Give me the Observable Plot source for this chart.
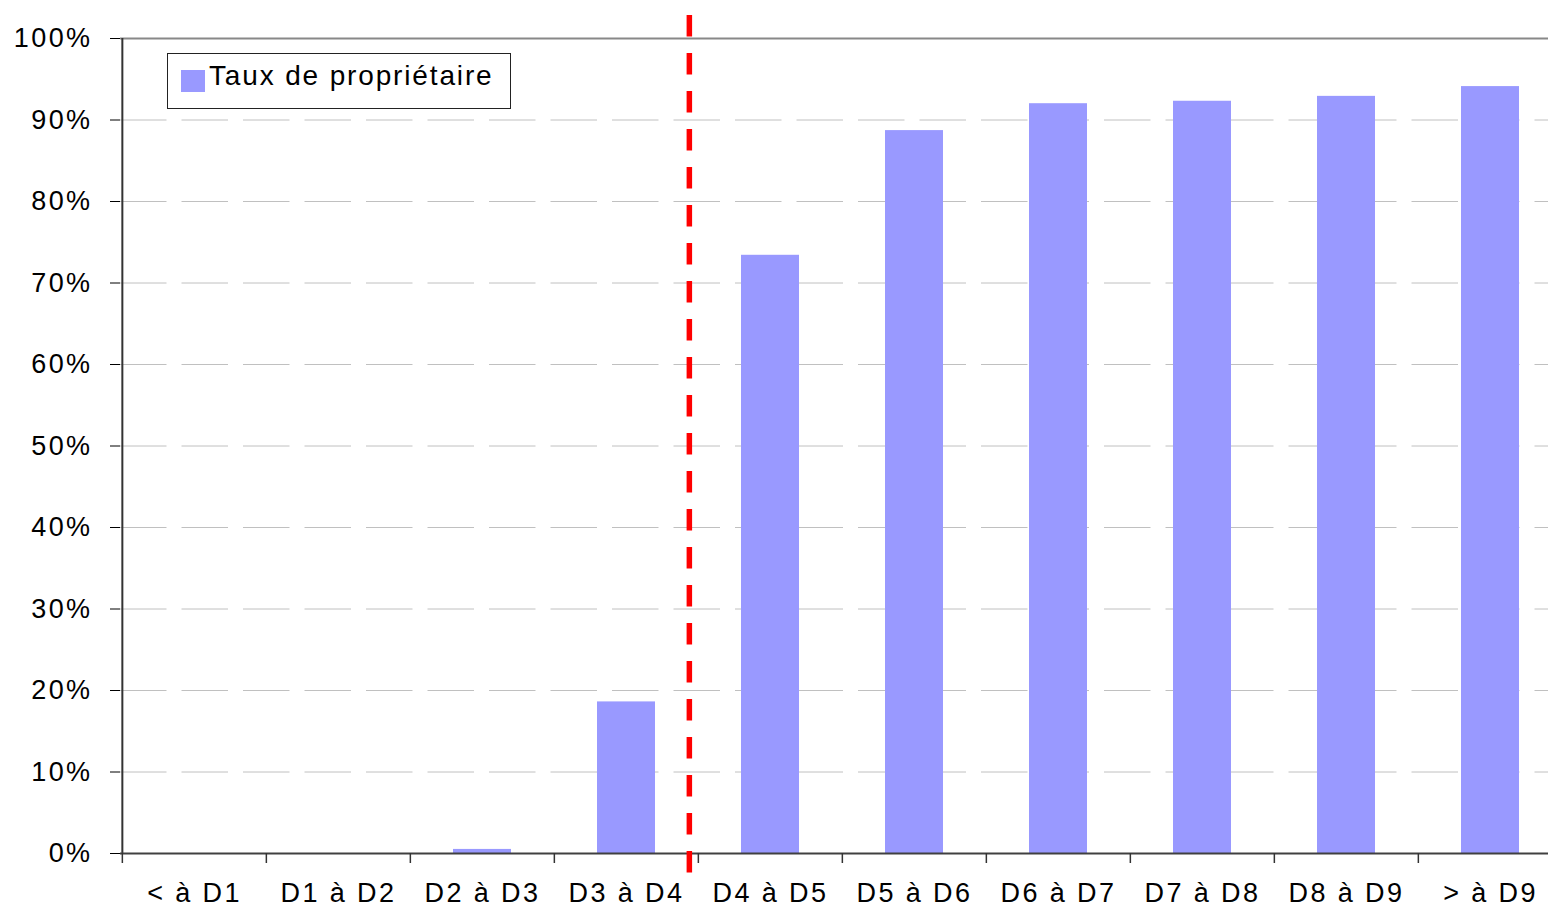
<!DOCTYPE html>
<html>
<head>
<meta charset="utf-8">
<script src="https://cdn.jsdelivr.net/npm/d3@7"></script>
<script src="https://cdn.jsdelivr.net/npm/@observablehq/plot@0.6"></script>
<style>
  html, body { margin: 0; padding: 0; background: #fff; }
  #wrap { position: relative; width: 1548px; height: 909px; overflow: hidden; }
  #legend {
    position: absolute; left: 167px; top: 53px; width: 344px; height: 56px;
    box-sizing: border-box; border: 1px solid #222; background: #fff;
    font-family: "Liberation Sans", Arial, sans-serif;
  }
  #legend .sw { position: absolute; left: 13px; top: 16px; width: 24px; height: 22px; background: #9999ff; }
  #legend .lb { position: absolute; left: 41px; top: 8px; font-size: 28px; line-height: 28px; letter-spacing: 1.85px; color: #000; white-space: nowrap; }
</style>
</head>
<body>
<div id="wrap">
  <div id="chart"></div>
  <div id="legend"><div class="sw"></div><div class="lb">Taux de propriétaire</div></div>
</div>
<script>
const categories = ["< à D1", "D1 à D2", "D2 à D3", "D3 à D4", "D4 à D5", "D5 à D6", "D6 à D7", "D7 à D8", "D8 à D9", "> à D9"];
const tauxProprietaire = [0, 0, 0.005, 0.186, 0.734, 0.887, 0.920, 0.923, 0.929, 0.941];
const yTicks = [0, 0.1, 0.2, 0.3, 0.4, 0.5, 0.6, 0.7, 0.8, 0.9, 1];
const seuilCategorie = "D4 à D5";

const data = categories.map((c, i) => ({cat: c, value: tauxProprietaire[i]}));
const gridValues = yTicks.filter(v => v > 0 && v < 1);

const xRange = [120, 1563];
const step = (xRange[1] - xRange[0]) / categories.length;

const chart = Plot.plot({
  width: 1548,
  height: 909,
  marginLeft: 120,
  marginRight: 0,
  marginTop: 38,
  marginBottom: 56,
  style: {fontFamily: "Liberation Sans, Arial, sans-serif", fontSize: "27px", letterSpacing: "2.4px", color: "#000", background: "#fff"},
  x: {domain: categories, range: xRange, paddingInner: 0.6, paddingOuter: 0.3, tickSize: 0, tickPadding: 29, label: null},
  y: {domain: [0, 1], ticks: yTicks, tickFormat: d3.format(".0%"), tickSize: 10, tickPadding: 18, label: null},
  marks: [
    Plot.ruleY(gridValues, {stroke: "#c0c0c0", strokeWidth: 1, strokeDasharray: "46.5,15"}),
    Plot.ruleY([1], {stroke: "#888", strokeWidth: 2}),
    Plot.barY(data, {x: "cat", y: "value", fill: "#9999ff"}),
    Plot.ruleX([categories[0]], {dx: -step / 2, stroke: "#333", strokeWidth: 2}),
    Plot.ruleY([0], {stroke: "#404040", strokeWidth: 2}),
    Plot.ruleX(categories, {dx: -step / 2, y1: 0, y2: 0, insetBottom: -10, stroke: "#333", strokeWidth: 1.5}),
    Plot.ruleX([seuilCategorie], {dx: -step / 2 - 9, stroke: "#ff0000", strokeWidth: 5.5, strokeDasharray: "21.5,16.5", insetTop: -23, insetBottom: -20})
  ]
});
document.getElementById("chart").appendChild(chart);
</script>
</body>
</html>
